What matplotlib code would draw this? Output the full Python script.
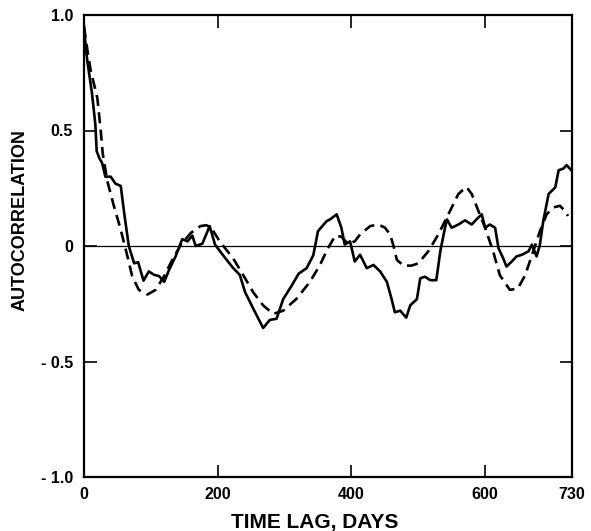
import matplotlib
matplotlib.use("Agg")
import matplotlib.pyplot as plt

# ---- data ----
lag_solid = [0, 3, 5, 12, 17, 19, 23, 27, 32, 40, 47, 55, 60, 67, 75, 81, 89, 97, 105, 112,
             120, 127, 137, 147, 155, 162, 167, 177, 188, 196, 208, 223, 233, 241, 253, 268,
             278, 288, 298, 311, 321, 333, 343, 350, 363, 368, 378, 385, 390, 398, 405, 413,
             423, 433, 443, 453, 460, 465, 473, 482, 488, 498, 503, 510, 518, 527, 533, 540,
             543, 550, 560, 570, 580, 587, 595, 600, 607, 615, 620, 627, 632, 640, 647, 655,
             665, 670, 677, 682, 687, 695, 705, 710, 717, 722, 729]
acf_solid = [0.95, 0.85, 0.80, 0.66, 0.525, 0.41, 0.38, 0.36, 0.30, 0.30, 0.27, 0.26, 0.145,
             0.0, -0.075, -0.07, -0.15, -0.11, -0.125, -0.13, -0.155, -0.105, -0.045, 0.03,
             0.02, 0.045, 0.0, 0.01, 0.086, 0.006, -0.04, -0.095, -0.125, -0.2, -0.27, -0.355,
             -0.32, -0.315, -0.23, -0.17, -0.12, -0.096, -0.04, 0.064, 0.108, 0.115, 0.137,
             0.079, 0.006, 0.02, -0.067, -0.038, -0.096, -0.082, -0.11, -0.155, -0.228,
             -0.287, -0.28, -0.31, -0.257, -0.23, -0.14, -0.133, -0.148, -0.148, -0.023,
             0.079, 0.115, 0.079, 0.093, 0.111, 0.093, 0.115, 0.137, 0.079, 0.093, 0.079,
             -0.009, -0.053, -0.089, -0.067, -0.045, -0.038, -0.023, 0.006, -0.045, 0.006,
             0.108, 0.225, 0.254, 0.328, 0.335, 0.35, 0.328]

lag_dashed = [0, 5, 10, 20, 25, 28, 35, 45, 55, 65, 72, 82, 95, 107, 120, 132, 145, 160, 174,
              183, 190, 203, 223, 238, 253, 268, 283, 298, 318, 338, 353, 365, 376, 385, 395,
              405, 413, 428, 440, 450, 458, 463, 468, 478, 490, 500, 515, 530, 545, 560, 572,
              580, 590, 600, 612, 622, 637, 649, 660, 672, 682, 692, 702, 712, 720, 724]
acf_dashed = [0.95, 0.85, 0.76, 0.64, 0.50, 0.40, 0.28, 0.17, 0.07, -0.045, -0.13, -0.19,
              -0.21, -0.19, -0.13, -0.06, 0.006, 0.057, 0.086, 0.09, 0.08, 0.02, -0.053,
              -0.125, -0.2, -0.257, -0.294, -0.28, -0.228, -0.155, -0.082, -0.009, 0.045,
              0.04, 0.01, 0.02, 0.05, 0.086, 0.093, 0.08, 0.05, 0.0, -0.06, -0.085, -0.085,
              -0.075, -0.023, 0.05, 0.137, 0.225, 0.256, 0.225, 0.152, 0.079, -0.023, -0.126,
              -0.19, -0.184, -0.126, -0.023, 0.064, 0.137, 0.167, 0.174, 0.15, 0.13]

x_ticks = [0, 200, 400, 600, 730]
x_tick_labels = ["0", "200", "400", "600", "730"]
y_ticks = [-1.0, -0.5, 0.0, 0.5, 1.0]
y_tick_labels = ["- 1.0", "- 0.5", "0", "0.5", "1.0"]

plt.rcParams['font.family'] = ['Liberation Sans', 'DejaVu Sans']
plt.rcParams['font.weight'] = 'bold'

fig = plt.figure(figsize=(5.91, 5.31), dpi=100)
ax = fig.add_axes([84/591, 1 - 477/531, (572-84)/591, (477-15)/531])

ax.axhline(0, color='black', lw=0.9, zorder=1)
ax.plot(lag_solid, acf_solid, color='black', lw=1.9, solid_joinstyle='round', zorder=3)
ax.plot(lag_dashed, acf_dashed, color='black', lw=1.9, linestyle=(0, (4.2, 2.4)), zorder=3)

ax.set_xlim(0, 730)
ax.set_ylim(-1.0, 1.0)
ax.set_xticks(x_ticks)
ax.set_xticklabels(x_tick_labels)
ax.set_yticks(y_ticks)
ax.set_yticklabels(y_tick_labels)
ax.tick_params(direction='in', length=9, width=1.2, labelsize=11.5, top=True, right=True,
               pad=7)
ax.tick_params(axis='y', pad=8)
for lab in ax.get_xticklabels() + ax.get_yticklabels():
    lab.set_fontweight('bold')

for s in ax.spines.values():
    s.set_linewidth(1.6)

ax.set_xlabel("TIME LAG, DAYS", fontsize=15, fontweight='bold')
ax.xaxis.set_label_coords((315 - 84) / 488, (477 - 513) / 462)
ax.xaxis.label.set_verticalalignment('top')
ax.set_ylabel("AUTOCORRELATION", fontsize=13, fontweight='bold')
ax.yaxis.set_label_coords((20 - 84) / 488, (477 - 220) / 462)
ax.yaxis.label.set_verticalalignment('center')

fig.savefig("out.png", dpi=100)
